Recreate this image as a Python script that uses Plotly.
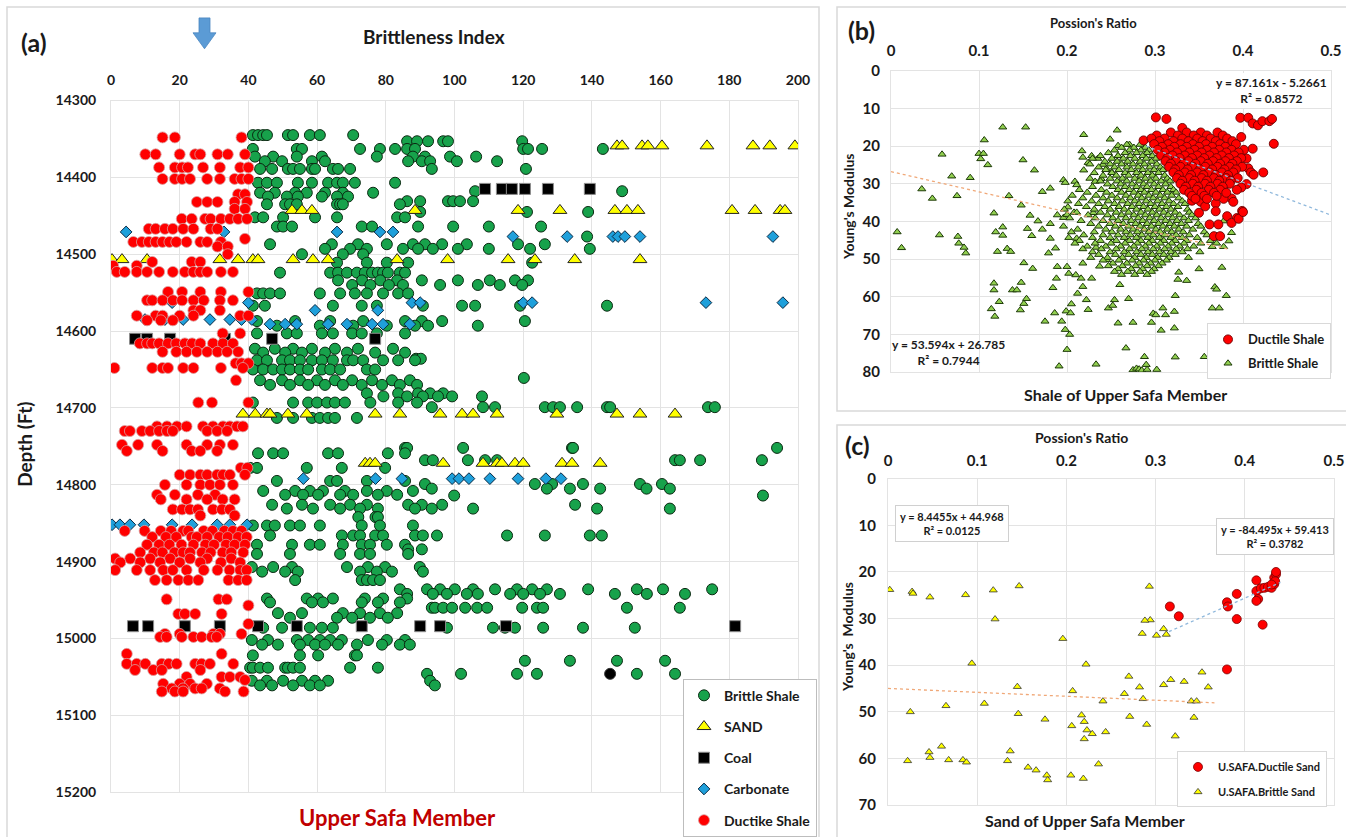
import plotly.graph_objects as go

W, H = 1346, 837


def px(x):
    return x / W


def py(y):
    return 1 - y / H


def expand(rows):
    """Rows of (key, [values]) -> (values, keys) as flat lists."""
    vals, keys = [], []
    for k, vs in rows:
        for v in vs:
            vals.append(v)
            keys.append(k)
    return vals, keys


# ---------------- Panel (a): Brittleness Index vs depth ----------------
bi_ticks = [0, 20, 40, 60, 80, 100, 120, 140, 160, 180, 200]
depth_ticks = [14300, 14400, 14500, 14600, 14700, 14800, 14900, 15000, 15100, 15200]

# (depth ft, [brittleness index ...])
brittle_shale_rows = [
    (14345, [41.3, 42.8, 44.3, 45.4, 51.5, 53, 57.9, 60.8, 70.5]),
    (14353, [86.2, 89.1, 92.3, 96.7, 98.1, 119.7]),
    (14363, [41.3, 54.1, 55.6, 72.5, 78.3, 82.7, 86.2, 88.5, 120, 121.4, 125.5, 143.2]),
    (14373, [41.9, 47.2, 54.1, 61.4, 77.4, 87.9, 91.4, 98.7, 106.3]),
    (14379, [44.8, 49.8, 58.5, 62.3, 86.5, 90.5, 92.9, 100.7, 112.4]),
    (14389, [43.4, 46.9, 51.5, 53, 55, 58.5, 59.4, 64.6, 66.1, 69.6, 93.4, 120.8]),
    (14407, [42.8, 45.4, 48.3, 54.4, 58.5, 63.2, 65.8, 67.5, 71, 82.7]),
    (14418, [106, 148.8]),
    (14420, [43.4, 47.7, 53.6, 57, 62.3, 67.5, 76.3]),
    (14425, [45.7, 51.2, 54.4, 61.4, 65.8, 69]),
    (14431, [86.2, 90, 98.1, 99.6, 101.6, 105.4]),
    (14435, [45.4, 50.7, 52.1, 54.1, 65.8, 66.7, 67.5, 84.1]),
    (14445, [90, 121.1, 138.9]),
    (14452, [41.9, 44.3, 50.1, 59.4, 65.8, 83.3, 85.6]),
    (14464, [48.3, 50.1, 52.7, 73, 76, 89.4, 99.6, 110, 125.2]),
    (14477, [138.6]),
    (14487, [46.3, 64.3, 71.9, 80.3, 87.9, 91.4, 96.4, 103.6, 118.5, 126.3]),
    (14493, [62.3, 69.6, 74.5, 85, 89.4, 93.7, 101, 110, 122, 139.4]),
    (14500, [55.6, 67.5, 73.4]),
    (14511, [65.8, 74.5, 80.3, 86.5, 122.6]),
    (14524, [49.2, 63.8, 66.1, 68.7, 71.6, 73.9, 76, 77.7, 79.2, 80.6, 84.1, 85.6]),
    (14534, [66.1, 73.1, 78.4, 83.3, 90.5, 101, 110.3, 117.6, 121.4]),
    (14540, [70.2, 75.5, 80.9, 85, 95.8, 106.8, 113.2, 119.7]),
    (14551, [42.5, 44.3, 46.3, 49.2, 60.8, 66.7, 71, 74.5, 79.2, 83.6, 86.5]),
    (14567, [41.3, 44.8, 64.6, 73, 77.4, 90.8, 102.2, 106, 119.1, 144.4]),
    (14587, [42.5, 53.6, 63.8, 73.4, 85.6, 90.5, 96.4, 120.5]),
    (14593, [48.3, 60.8, 70.5, 80.3, 88.5, 92.3, 106.8]),
    (14603, [42.5, 51.2, 54.1, 61.4, 64.6, 70.2, 73, 77.4, 85.6]),
    (14623, [41.9, 47.7, 53, 58.5, 65.2, 71.9, 82.1]),
    (14628, [44.3, 50.7, 55.6, 62.3, 68.7, 76.9, 85.6]),
    (14636, [88.8, 90.2]),
    (14638, [42.5, 45.4, 49.8, 52.1, 55, 58.5, 61.4, 64.6, 68.7, 70.5, 73.4, 79.2, 83.6, 88.5]),
    (14650, [41.3, 44.3, 47.2, 49.8, 52.1, 55, 57.4, 61.4, 63.8, 66.7, 74.5, 76.9]),
    (14661, [120.2]),
    (14664, [43.4, 49.8, 55, 60, 65.2, 70.2, 76, 81.8, 87]),
    (14670, [46.3, 52.1, 57.4, 62.3, 67.5, 73, 78.9, 84.1, 89.1]),
    (14681, [74.5, 83.6, 89.4, 92.9, 96.7]),
    (14685, [79.3, 86.2, 90.8, 95.2, 99.3, 108]),
    (14693, [41.3, 53, 57.4, 60, 62.9, 65.2, 68.1, 75.5, 83.6, 89.1]),
    (14699, [93.4, 108.3, 111.8, 126.3, 128.7, 130.7, 135.7, 144.4, 145.3, 173.8, 175.8]),
    (14713, [48.3, 53, 58.5, 60.8, 63.2, 65.2, 71.6]),
    (14752, [85.6, 86.2, 102.5, 134.2, 134.5, 193.9]),
    (14759, [42.8, 47.2, 50.1, 63.2, 66.1, 80.6, 85.6]),
    (14768, [91.4, 93.7, 103.9, 108.9, 112.4, 164.2, 165.6, 171.5, 189.5]),
    (14778, [40.5, 42.5, 57, 67.2, 79.8]),
    (14795, [48.3, 63.8, 65.8, 74.5, 85.6]),
    (14799, [91.4, 123.4, 128.4, 137.4, 154, 160.4]),
    (14805, [93.4, 126.9, 133.6, 142.4, 155.9, 162.7]),
    (14808, [44.3, 53.6, 57.9, 61.7, 68.1, 74.5, 80.3, 87.9]),
    (14813, [50.7, 55.9, 60.3, 66.7, 70.5, 77.7, 83.3]),
    (14814, [99.9, 189.8]),
    (14826, [46.9, 55.6, 63.8, 69.6, 74.5, 86.5, 90.5, 96.4, 135.1]),
    (14831, [51.2, 58.8, 66.7, 72.5, 77.7, 88.5, 93.4, 105.4, 141.5, 162.7]),
    (14842, [72, 77, 77.7]),
    (14853, [41.3, 45.4, 47.7, 52.1, 55, 60.8, 73, 78.3, 87.9]),
    (14866, [46.3, 67.2, 70.5, 72.5, 76.9, 79.2, 88.5, 90.8, 94.9, 115.3, 126.3, 139.4, 142.9]),
    (14878, [42.5, 52.7, 57.9, 60.8, 67.5, 73, 75.4, 80.3, 85.6]),
    (14884, [86.5, 90.5]),
    (14890, [42.5, 52.1, 66.7, 72.5, 75.4, 86.5]),
    (14907, [41, 47.2, 52.7, 68.7, 74.8, 79.8, 89.9]),
    (14913, [44, 50.7, 54.4, 72.5, 77.4, 81.8, 90.8]),
    (14924, [53.6, 73, 74.5, 76.3, 78.3]),
    (14936, [84.1, 92, 95.8, 100.1, 105.4, 111.8, 118.2, 122.6, 126.9, 138.9, 153.1, 160.7, 175]),
    (14942, [86.2, 93.7, 97.8, 103.6, 106.8, 116.2, 120, 124.9, 130.7, 146.7, 156, 167.1]),
    (14948, [45.4, 57, 60.3, 64.6, 73.9, 79.2, 86.2]),
    (14953, [46.3, 58.5, 61.7, 73, 77.7, 84.1]),
    (14960, [93.4, 94.3, 96.7, 99.3, 103.1, 106.6, 109.5, 119.7, 124, 125.8, 150.2, 165.6]),
    (14967, [48.6, 55.6, 67.5, 72.5, 78.3, 83.3]),
    (14973, [52.1, 65.8, 70.2, 75.4, 80.6]),
    (14986, [44.3, 49.8, 57.9, 61.4, 64.6, 97.8, 111.2, 114.7, 117.6, 125.8, 137.4, 152.5]),
    (15002, [41, 45.7, 54.1, 57.4, 60.8, 63.8, 67.2, 74.8, 80.3, 85.6]),
    (15008, [44, 48.6, 55, 59.4, 62.3, 66.1, 71.6, 78.9, 84.1, 87]),
    (15022, [41.3, 55, 60.3, 71, 71.6]),
    (15029, [120.5, 133.6, 147.3, 161.3]),
    (15038, [40.5, 41.3, 43.4, 45.7, 50.7, 51.5, 53, 55, 69.6, 77.7]),
    (15046, [92, 101.9, 118.2, 124, 153.1, 164.2]),
    (15055, [41, 45.4, 50.1, 55.6, 59.4, 63.2, 92.9]),
    (15061, [43.4, 46.9, 53, 57.9, 60.8, 94.3]),
]

sand_rows = [
    (14359, [147.3, 148.8, 154.6, 156.3, 160.4, 173.5, 186.9, 191.8, 199.1]),
    (14443, [52.7, 55.6, 58.5, 88.5, 118.5, 130.7, 146.7, 150.2, 153.4, 180.8, 187.5, 194.8, 196.2]),
    (14507, [0.3, 3.2, 10.5, 31.7, 37, 41.3, 42.8, 53, 58.8, 63.2, 83.3, 98, 115.6, 123.4, 135, 154]),
    (14708, [38.4, 42, 45.4, 46.3, 51.5, 57, 76.9, 84.1, 95.8, 102.2, 105.4, 112.4, 129.8, 147.3, 154, 164.2]),
    (14772, [74, 75.4, 76.9, 96.7, 108.3, 112.4, 113.8, 117.6, 120, 131.3, 134.2, 142.4]),
]

coal_rows = [
    (14415, [108.9, 113.8, 116.7, 120.5, 127.2, 139.4]),
    (14610, [7, 10.5, 17.2, 33.2, 46.9, 76.9]),
    (14984, [6.4, 10.8, 21.5, 31.7, 42.8, 54.1, 73, 90, 95.8, 115, 181.7]),
]
coal_round_point = ([145.3], [15046])

carbonate_rows = [
    (14471, [4.4, 32.9, 65.8, 78.3, 82.1]),
    (14477, [117, 132.8, 146.1, 147.6, 149.6, 154, 192.7]),
    (14563, [17.8, 40, 87.6, 90, 120, 122.6, 173.2, 195.6]),
    (14573, [59.4, 77.7]),
    (14585, [9.9, 15.7, 21, 28.8, 34.6, 38, 41]),
    (14591, [46.3, 50.7, 54.1, 63.2, 68.7, 76, 79.2, 87]),
    (14792, [56, 77, 84.7, 99.3, 101.3, 104.2, 110.3, 118.5, 126.6, 131]),
    (14852, [0.3, 2.6, 5.5, 9.6, 17.8, 23.6, 30.9, 34.6, 39.6]),
]

ductile_shale_rows = [
    (14348, [15, 18.6, 38]),
    (14370, [10, 13, 20, 24.5, 26, 31, 34, 39]),
    (14387, [14, 18.6, 20.7, 22.4, 26.8, 31.7, 37.6, 40]),
    (14402, [15, 18.6, 20.7, 23, 28, 31.7, 36, 38, 40]),
    (14422, [37, 39]),
    (14432, [25, 28, 31, 36, 39.6]),
    (14441, [36, 39]),
    (14454, [20.6, 23.5, 27.4, 29, 32, 34.6, 37, 39.6]),
    (14467, [11, 13, 15.7, 18, 21, 24, 29, 31]),
    (14480, [39]),
    (14484, [6.5, 9, 11, 13, 15, 17, 19, 22, 26, 28, 32]),
    (14490, [31, 34]),
    (14500, [34]),
    (14510, [12, 23.5, 26]),
    (14515, [0.6, 7.5]),
    (14523, [1.7, 4, 7.5, 10.5, 14, 18, 21.5, 24, 26, 28, 32, 35.5]),
    (14549, [16.6, 20.7, 26, 32, 40]),
    (14560, [10.5, 12, 15, 18, 20.7, 24, 27, 31.7, 35.5]),
    (14573, [24, 26, 31.7]),
    (14580, [7.5, 13, 15, 20, 24, 37.6, 40]),
    (14586, [10.5, 14.5, 18]),
    (14603, [32.5, 37.6]),
    (14616, [8.4, 10.5, 12, 14, 16.6, 19, 21.5, 23.6, 26, 29.7, 32.6, 35.5]),
    (14627, [15, 19, 22, 25, 28, 31, 33.8, 37]),
    (14642, [36.3, 38, 40]),
    (14648, [1, 12, 15, 16.6, 21, 24, 32, 38.4]),
    (14664, [36.4]),
    (14693, [25.4, 29.4, 40]),
    (14724, [13.4, 16.3, 19.2, 22, 26.8, 29.7, 32.6, 34.6, 36.7, 38.4]),
    (14730, [4, 5.5, 9, 11.4, 14, 16.3, 18, 28, 30.9, 33.8]),
    (14748, [3.2, 7.9, 13.4, 22, 28, 31.7, 35.5]),
    (14756, [4.6, 15, 23.5, 26, 30.9]),
    (14778, [37.8, 39.7]),
    (14787, [20, 23, 26, 28, 30.9, 32.6, 34.6, 39]),
    (14800, [15.7, 22, 26, 28.8, 31.7, 35.5]),
    (14813, [13.4, 18.6, 25.3, 30.3]),
    (14819, [14.5, 22, 28, 32.5, 36]),
    (14832, [18, 20.7, 23, 25.3, 29.7, 32.3, 34.6]),
    (14840, [26, 36]),
    (14860, [4, 9.8, 14.5, 17.5, 21, 22.5, 27, 29.5, 33, 35.5, 38]),
    (14868, [12, 16, 19, 23.5, 25, 28, 31.5, 34, 37, 39.5]),
    (14878, [10.5, 14, 17, 20.5, 24, 27.5, 30, 33.5, 36, 39]),
    (14888, [8.5, 12.5, 15, 18.5, 21, 23, 26.5, 29, 32.5, 35, 38.5]),
    (14896, [1.2, 5.6, 11.4, 17.2, 23, 28, 35]),
    (14901, [2.7, 8.5, 14.3, 20, 26, 32, 37.6]),
    (14911, [1.2, 7.5, 11.4, 15.2, 18, 22, 27, 31, 34.5, 37.6, 39.5]),
    (14924, [12.8, 16.2, 19.6, 22.5, 25.4, 34.2, 37, 39.5]),
    (14949, [16.2, 31.3, 33.7]),
    (14957, [40]),
    (14968, [19.6, 21.5, 24.5, 32.2]),
    (14981, [40]),
    (14994, [15.7, 20, 29.8, 31.7, 38]),
    (14998, [14.3, 16.2, 20.6, 24, 26.4, 29.3, 30.8]),
    (15020, [4.6, 32.2]),
    (15033, [4.6, 7.5, 10, 14.8, 16.8, 19.1, 24.5, 26.4, 28.8, 35.6]),
    (15041, [7, 12.3, 14.8, 26]),
    (15050, [22, 32.2, 34.6, 37.6]),
    (15054, [39]),
    (15059, [15.2, 20, 23, 27.9]),
    (15065, [17.7, 21, 24.5, 26.4, 31.7]),
    (15069, [14.8, 18.6, 21, 33.2, 38.6]),
]

# ---------------- Panel (b): shale, Poisson's ratio vs Young's modulus ----------------
pr_ticks = [0, 0.1, 0.2, 0.3, 0.4, 0.5]
ym_ticks_b = [0, 10, 20, 30, 40, 50, 60, 70, 80]

shale_brittle_pts = [
    (.127, 15.0), (.153, 15.0), (.106, 18.4), (.058, 22.2), (.100, 22.0), (.105, 22.0), (.102, 23.4),
    (.110, 25.0), (.150, 23.7), (.163, 26.4), (.069, 28.0), (.090, 28.4), (.035, 31.4), (.047, 33.9),
    (.075, 33.2), (.134, 33.2), (.172, 32.1), (.181, 31.2), (.219, 17.0), (.249, 18.2), (.257, 15.8),
    (.217, 21.3), (.218, 23.0), (.219, 26.4), (.196, 29.0), (.198, 29.7), (.209, 29.4), (.211, 30.3),
    (.226, 28.6), (.232, 29.4), (.239, 28.7), (.228, 22.6), (.235, 23.3), (.224, 24.4), (.241, 24.9),
    (.258, 19.9), (.271, 19.6), (.245, 26.0), (.251, 27.0), (.258, 22.6),
    (.007, 42.8), (.012, 47.0), (.055, 43.6), (.076, 44.0), (.077, 45.8), (.083, 46.9), (.085, 48.4),
    (.117, 37.8), (.117, 56.4), (.117, 58.2), (.114, 63.2), (.118, 65.2), (.123, 61.3), (.121, 48.0),
    (.119, 42.8), (.127, 41.5), (.127, 43.7), (.132, 47.2), (.136, 48.0), (.138, 58.2), (.143, 58.2),
    (.147, 63.5), (.148, 56.2), (.151, 61.8), (.154, 60.5), (.151, 51.0), (.161, 52.5), (.158, 38.4),
    (.155, 41.9), (.160, 43.8), (.148, 35.7), (.167, 39.9), (.175, 66.5), (.179, 48.4), (.181, 44.5),
    (.187, 47.1), (.186, 64.3), (.184, 57.6), (.188, 55.1), (.189, 52.0), (.194, 66.5), (.198, 68.7),
    (.199, 63.8), (.196, 39.0), (.200, 38.2), (.201, 36.2), (.200, 74.0), (.203, 70.0), (.202, 53.8),
    (.200, 52.0), (.204, 64.3), (.205, 61.9), (.208, 37.6), (.210, 54.2), (.211, 44.5), (.212, 59.1),
    (.216, 55.1), (.218, 51.1), (.218, 57.3), (.222, 60.8), (.224, 63.4), (.228, 55.1), (.230, 37.7),
    (.191, 78.4), (.233, 77.9), (.233, 46.9), (.237, 51.9), (.245, 50.2), (.247, 63.0), (.252, 62.3),
    (.254, 60.8), (.258, 67.0), (.260, 56.8), (.267, 73.6), (.270, 60.5), (.275, 66.8), (.275, 79.4),
    (.279, 79.0), (.282, 79.2), (.285, 79.5), (.288, 75.9), (.290, 78.0), (.291, 79.3), (.296, 66.8),
    (.298, 64.4), (.301, 64.8), (.302, 79.3), (.307, 68.9), (.309, 63.0), (.312, 64.8), (.322, 63.9),
    (.322, 68.3), (.323, 76.0), (.323, 59.7), (.326, 55.4), (.327, 53.5), (.336, 55.7), (.350, 52.6),
    (.356, 75.9), (.365, 63.0), (.368, 57.4), (.370, 58.0), (.373, 63.0), (.376, 52.2), (.381, 59.7),
    (.378, 39.9), (.387, 43.0), (.384, 45.2), (.378, 46.7), (.365, 46.7),
]

# (Young's modulus, [Poisson's ratio ...]) for the dense core of the brittle shale cloud
shale_brittle_rows = [
    (19.6, [.268, .283]),
    (20.4, [.262, .276, .289]),
    (21.1, [.254, .271, .284, .293]),
    (21.8, [.247, .266, .279, .291]),
    (22.6, [.238, .258, .272, .286, .297]),
    (23.3, [.229, .251, .264, .277, .290, .301]),
    (24.1, [.243, .257, .269, .283, .296]),
    (24.8, [.226, .249, .262, .275, .288, .302]),
    (25.6, [.236, .254, .268, .281, .294, .306]),
    (26.3, [.244, .259, .273, .286, .299, .309]),
    (27.1, [.231, .251, .266, .279, .292, .304]),
    (27.8, [.241, .256, .270, .284, .297, .311]),
    (28.6, [.249, .263, .277, .289, .301, .314]),
    (29.3, [.238, .257, .268, .282, .295, .307, .317]),
    (30.1, [.246, .261, .274, .287, .299, .312]),
    (30.8, [.229, .252, .266, .279, .291, .304, .318]),
    (31.6, [.214, .239, .258, .271, .284, .296, .309, .321]),
    (32.3, [.223, .245, .262, .276, .288, .301, .314, .324]),
    (33.1, [.206, .233, .251, .267, .281, .293, .306, .319]),
    (33.8, [.218, .241, .257, .272, .285, .298, .311, .327]),
    (34.6, [.201, .228, .247, .263, .277, .290, .303, .316, .331]),
    (35.3, [.213, .236, .254, .269, .282, .295, .308, .321, .334]),
    (36.1, [.222, .243, .259, .274, .287, .300, .313, .326]),
    (36.8, [.197, .231, .249, .265, .279, .292, .305, .318, .337]),
    (37.6, [.211, .238, .256, .270, .284, .297, .310, .323, .339]),
    (38.3, [.189, .224, .246, .262, .276, .289, .302, .315, .328, .342]),
    (39.1, [.203, .232, .252, .267, .281, .294, .307, .320, .333, .346]),
    (39.8, [.216, .241, .258, .273, .286, .299, .312, .325, .338]),
    (40.6, [.181, .227, .249, .264, .278, .291, .304, .317, .330, .349]),
    (41.3, [.196, .236, .255, .270, .283, .296, .309, .322, .336, .352]),
    (42.1, [.172, .212, .244, .261, .275, .288, .301, .314, .327, .343]),
    (42.8, [.205, .231, .251, .267, .280, .293, .306, .319, .332, .356]),
    (43.6, [.219, .241, .258, .272, .285, .298, .311, .324, .339, .359]),
    (44.3, [.202, .229, .249, .265, .279, .292, .305, .318, .331, .348]),
    (45.1, [.214, .238, .256, .271, .284, .297, .310, .323, .336, .363]),
    (45.8, [.209, .232, .250, .266, .280, .293, .306, .319, .333, .352, .370]),
    (46.6, [.223, .244, .261, .276, .289, .302, .315, .328, .344]),
    (47.3, [.218, .239, .256, .271, .285, .298, .311, .324, .337]),
    (48.1, [.229, .249, .265, .279, .292, .305, .318, .331, .351]),
    (48.8, [.236, .255, .270, .284, .297, .310, .323]),
    (49.6, [.227, .246, .263, .277, .290, .303, .316, .338]),
    (50.3, [.241, .259, .274, .287, .300, .313]),
    (51.1, [.252, .268, .282, .295, .308]),
    (51.8, [.247, .263, .278, .291, .304]),
    (52.6, [.258, .273, .286, .299]),
    (53.3, [.254, .269, .283, .296]),
    (54.1, [.262, .277, .291]),
]

shale_ductile_pts = [
    (.301, 12.4), (.313, 12.8), (.331, 15.2), (.398, 17.6), (.397, 12.5), (.406, 12.5), (.411, 14.0),
    (.417, 14.5), (.422, 13.4), (.430, 13.4), (.433, 12.8), (.435, 19.4), (.411, 20.7), (.404, 23.3),
    (.406, 25.9), (.409, 27.0), (.412, 27.6), (.423, 27.0), (.404, 30.1), (.398, 31.0), (.393, 31.6),
    (.387, 33.9), (.378, 34.0), (.287, 18.5), (.342, 34.5), (.352, 34.8), (.369, 35.2), (.389, 34.8),
    (.399, 37.2), (.393, 39.1), (.382, 38.6), (.369, 37.3), (.362, 40.8), (.372, 40.8), (.367, 43.9),
    (.374, 43.9), (.387, 40.4), (.395, 39.3), (.400, 37.5), (.350, 37.7), (.357, 36.0),
]

shale_ductile_rows = [
    (16.4, [.318, .336, .352, .371]),
    (17.2, [.302, .326, .344, .359, .377]),
    (18.0, [.296, .311, .331, .348, .363, .382]),
    (18.7, [.305, .321, .338, .354, .369, .388]),
    (19.5, [.299, .315, .329, .343, .358, .374, .392]),
    (20.2, [.308, .322, .336, .350, .365, .380]),
    (21.0, [.303, .317, .331, .345, .359, .373, .387, .401]),
    (21.7, [.311, .325, .339, .353, .367, .381, .395]),
    (22.5, [.307, .320, .334, .348, .362, .376, .390]),
    (23.2, [.314, .328, .342, .356, .370, .384, .398]),
    (24.0, [.312, .324, .338, .352, .366, .380, .393]),
    (24.7, [.318, .332, .346, .360, .374, .388]),
    (25.5, [.316, .329, .343, .357, .371, .385, .399]),
    (26.2, [.323, .337, .351, .365, .379, .392]),
    (27.0, [.321, .334, .348, .362, .376, .389]),
    (27.7, [.327, .341, .355, .369, .383]),
    (28.5, [.325, .339, .353, .367, .381, .394]),
    (29.2, [.331, .345, .359, .373, .386]),
    (30.0, [.329, .343, .357, .371, .385]),
    (30.8, [.335, .349, .363, .377]),
    (31.6, [.333, .347, .361, .374]),
    (32.4, [.339, .353, .367, .381]),
    (33.2, [.342, .356, .370]),
    (34.0, [.346, .359]),
]

# ---------------- Panel (c): sand, Poisson's ratio vs Young's modulus ----------------
ym_ticks_c = [0, 10, 20, 30, 40, 50, 60, 70]

sand_brittle_pts = [
    (.002, 23.8), (.027, 24.2), (.028, 24.6), (.047, 25.4), (.087, 24.9), (.118, 23.9), (.147, 23.0),
    (.120, 30.1), (.293, 23.1), (.294, 30.3), (.094, 39.6), (.196, 34.3), (.222, 39.8), (.025, 50.0),
    (.065, 48.7), (.108, 48.2), (.145, 44.6), (.146, 50.4), (.022, 60.5), (.046, 58.6), (.047, 59.8),
    (.060, 57.4), (.068, 60.3), (.084, 60.3), (.088, 60.8), (.134, 60.5), (.137, 58.4), (.157, 61.9),
    (.166, 62.5), (.178, 63.6), (.179, 64.6), (.176, 51.6), (.205, 63.6), (.219, 64.3), (.206, 53.0),
    (.207, 45.5), (.217, 50.7), (.220, 52.1), (.223, 53.9), (.229, 54.7), (.220, 55.8), (.236, 61.2),
    (.241, 47.7), (.244, 54.3), (.265, 46.1), (.270, 42.4), (.271, 51.0), (.282, 44.7), (.286, 47.2),
    (.290, 52.7), (.285, 33.2), (.288, 30.4), (.301, 33.6), (.309, 32.2), (.312, 33.4), (.309, 44.2),
    (.317, 43.1), (.322, 55.2), (.332, 43.5), (.340, 47.7), (.343, 51.2), (.346, 47.7), (.352, 41.5),
    (.359, 44.7),
]

sand_ductile_pts = [
    (.316, 27.4), (.326, 29.5), (.380, 26.5), (.381, 27.4), (.391, 24.7), (.391, 30.1), (.413, 21.8),
    (.413, 24.1), (.415, 25.8), (.413, 26.2), (.418, 23.5), (.422, 23.4), (.426, 23.2), (.430, 23.4),
    (.433, 22.6), (.433, 21.2), (.435, 20.5), (.435, 20.0), (.434, 22.0), (.430, 22.7), (.420, 31.3),
    (.380, 40.9),
]

# Linear trend lines: (slope, intercept, R squared, x start, x end)
trend_b_ductile = (87.161, -5.2661, 0.8572, 0.29, 0.5)
trend_b_brittle = (53.594, 26.785, 0.7944, 0.0, 0.385)
trend_c_ductile = (-84.495, 59.413, 0.3782, 0.315, 0.44)
trend_c_brittle = (8.4455, 44.968, 0.0125, 0.0, 0.366)

# ---------------- styling ----------------
FONT = "Lato"
TXT = "#1a1a1a"
GRID = "#e3e3e3"
GREEN = "#17a24b"
RED = "#ff0000"
YELLOW = "#ffff00"
BLUE = "#1fa0db"
LIGHT_GREEN = "#92d050"

fig = go.Figure()


def add_pts(xs, ys, name, marker, xa, ya, legend, showlegend=True, rank=1000):
    fig.add_trace(go.Scatter(
        x=xs, y=ys, mode="markers", name=name, marker=marker,
        xaxis=xa, yaxis=ya, legend=legend, showlegend=showlegend,
        legendgroup=name + legend, legendrank=rank, hoverinfo="skip"))


def add_rows(rows, *args, **kw):
    x, y = expand(rows)
    add_pts(x, y, *args, **kw)


def split(pts):
    return [p[0] for p in pts], [p[1] for p in pts]


# Panel (a) traces
add_rows(brittle_shale_rows, "Brittle Shale",
         dict(symbol="circle", size=11, color=GREEN, line=dict(color="#0b2a12", width=1)),
         "x", "y", "legend", rank=1)
add_rows(sand_rows, "SAND",
         dict(symbol="triangle-up", size=12, color=YELLOW, line=dict(color="#222", width=1)),
         "x", "y", "legend", rank=2)
add_rows(coal_rows, "Coal",
         dict(symbol="square", size=11, color="#000000", line=dict(color="#8c8c8c", width=1)),
         "x", "y", "legend", rank=3)
add_pts(coal_round_point[0], coal_round_point[1], "Coal point",
        dict(symbol="circle", size=11, color="#000000", line=dict(color="#333", width=1)),
        "x", "y", "legend", showlegend=False)
add_rows(carbonate_rows, "Carbonate",
         dict(symbol="diamond", size=9, color=BLUE, line=dict(color="#0a2a44", width=1)),
         "x", "y", "legend", rank=4)
add_rows(ductile_shale_rows, "Ductike Shale",
         dict(symbol="circle", size=11, color=RED, line=dict(color="#d9a0a0", width=0.8)),
         "x", "y", "legend", rank=5)

# Panel (b) traces: brittle cloud first, ductile cloud drawn over it
bx, by = expand(shale_brittle_rows)
ox, oy = split(shale_brittle_pts)
add_pts(ox + bx, oy + by, "Brittle Shale",
        dict(symbol="triangle-up", size=7, color=LIGHT_GREEN, line=dict(color="#1d3a08", width=1)),
        "x2", "y2", "legend2", rank=2)
dx, dy = expand(shale_ductile_rows)
ox, oy = split(shale_ductile_pts)
add_pts(ox + dx, oy + dy, "Ductile Shale",
        dict(symbol="circle", size=9, color=RED, line=dict(color="#6e0000", width=0.9)),
        "x2", "y2", "legend2", rank=1)

# Panel (c) traces
sx, sy = split(sand_brittle_pts)
add_pts(sx, sy, "U.SAFA.Brittle Sand",
        dict(symbol="triangle-up", size=7, color=YELLOW, line=dict(color="#333", width=0.8)),
        "x3", "y3", "legend3", rank=2)
sx, sy = split(sand_ductile_pts)
add_pts(sx, sy, "U.SAFA.Ductile Sand",
        dict(symbol="circle", size=9, color=RED, line=dict(color="#7a0000", width=0.8)),
        "x3", "y3", "legend3", rank=1)


def add_trend(tr, color, xa, ya):
    m, c, r2, x0, x1 = tr
    fig.add_trace(go.Scatter(
        x=[x0, x1], y=[m * x0 + c, m * x1 + c], mode="lines",
        line=dict(color=color, width=1.3, dash="dot"),
        xaxis=xa, yaxis=ya, showlegend=False, hoverinfo="skip"))


add_trend(trend_b_brittle, "#f0a878", "x2", "y2")
add_trend(trend_b_ductile, "#8fb8dc", "x2", "y2")
add_trend(trend_c_brittle, "#f0a878", "x3", "y3")
add_trend(trend_c_ductile, "#8fb8dc", "x3", "y3")


def eq_text(tr):
    m, c, r2 = tr[0], tr[1], tr[2]
    sign = "+" if c >= 0 else "-"
    return f"<b>y = {m:g}x {sign} {abs(c):g}<br>R² = {r2:g}</b>"


# ---------------- axes ----------------
tick_font = dict(family=FONT, size=14, color=TXT, weight="bold")
tick_font_small = dict(family=FONT, size=15, color=TXT, weight="bold")
common = dict(showgrid=True, gridcolor=GRID, gridwidth=1, zeroline=False, automargin=False,
              showline=True, linecolor=GRID, linewidth=1, mirror=True, ticks="")

fig.update_layout(
    xaxis=dict(domain=[px(111), px(798)], range=[0, 200], tickvals=bi_ticks, side="top",
               anchor="y", tickfont=tick_font, ticklabelstandoff=9, **common),
    yaxis=dict(domain=[py(796), py(101)], range=[15200, 14300], tickvals=depth_ticks,
               tickformat="d", anchor="x", tickfont=tick_font, ticklabelstandoff=11, **common),
    xaxis2=dict(domain=[px(891), px(1331)], range=[0, 0.5], tickvals=pr_ticks, side="top",
                anchor="y2", tickfont=tick_font_small, ticklabelstandoff=8, **common),
    yaxis2=dict(domain=[py(374), py(71)], range=[80, 0], tickvals=ym_ticks_b,
                anchor="x2", tickfont=tick_font_small, ticklabelstandoff=7, **common),
    xaxis3=dict(domain=[px(888), px(1334)], range=[0, 0.5], tickvals=pr_ticks, side="top",
                anchor="y3", tickfont=tick_font_small, ticklabelstandoff=6, **common),
    yaxis3=dict(domain=[py(809), py(481)], range=[70, 0], tickvals=ym_ticks_c,
                anchor="x3", tickfont=tick_font_small, ticklabelstandoff=8, **common),
)

# ---------------- legends ----------------
fig.update_layout(
    legend=dict(x=px(817), y=py(682), xanchor="right", yanchor="top",
                bgcolor="white", bordercolor="#bdbdbd", borderwidth=1,
                font=dict(family=FONT, size=14, color=TXT, weight="bold"),
                tracegroupgap=10, itemwidth=30),
    legend2=dict(x=px(1331), y=py(325), xanchor="right", yanchor="top",
                 bgcolor="white", bordercolor="#d9d9d9", borderwidth=1,
                 font=dict(family=FONT, size=13, color=TXT, weight="bold"),
                 tracegroupgap=4, itemwidth=30),
    legend3=dict(x=px(1327), y=py(755), xanchor="right", yanchor="top",
                 bgcolor="white", bordercolor="#d9d9d9", borderwidth=1,
                 font=dict(family=FONT, size=11, color=TXT, weight="bold"),
                 tracegroupgap=6, itemwidth=30),
)

# ---------------- text ----------------
annotations = []


def label(text, x, y, size, color=TXT, angle=0):
    annotations.append(dict(
        text=f"<b>{text}</b>", x=px(x), y=py(y), xref="paper", yref="paper",
        showarrow=False, textangle=angle, xanchor="center", yanchor="middle",
        font=dict(family=FONT, size=size, color=color)))


label("(a)", 34, 42, 25)
label("Brittleness Index", 434, 37, 19)
label("Depth (Ft)", 25, 447, 19, angle=-90)
label("Upper Safa Member", 397, 821, 22, color="#c00000")

label("(b)", 862, 30, 25)
label("Possion's Ratio", 1093, 23, 13)
label("Shale of Upper Safa Member", 1125, 396, 16)
label("Young's Modulus", 848, 208, 14, angle=-90)

label("(c)", 857, 447, 25)
label("Possion's Ratio", 1081, 440, 14)
label("Sand of Upper Safa Member", 1085, 824, 16)
label("Young's  Modulus", 848, 640, 14, angle=-90)

for tr, x, y, size, box in [
    (trend_b_ductile, 1271, 91, 12, False),
    (trend_b_brittle, 948, 354, 12, False),
    (trend_c_brittle, 952, 526, 11, True),
    (trend_c_ductile, 1275, 539, 11, True),
]:
    annotations.append(dict(
        text=eq_text(tr), x=px(x), y=py(y), xref="paper", yref="paper",
        showarrow=False, xanchor="center", yanchor="middle", align="center",
        font=dict(family=FONT, size=size, color=TXT),
        bgcolor="white" if (box or tr is trend_b_ductile) else None,
        bordercolor="#d0d0d0" if box else None, borderwidth=1 if box else 0,
        borderpad=4 if box else 2))

fig.update_layout(annotations=annotations)

# ---------------- panel frames and arrow ----------------
shapes = []
for x0, y0, x1, y1 in [(7, 7, 819, 845), (837, 7, 1352, 413), (837, 427, 1352, 845)]:
    shapes.append(dict(type="rect", xref="paper", yref="paper",
                       x0=px(x0), y0=py(y1), x1=px(x1), y1=py(y0),
                       line=dict(color="#d9d9d9", width=1.5), fillcolor="rgba(0,0,0,0)"))

arrow = [(199, 18), (210, 18), (210, 33), (216, 33), (204.5, 49), (193, 33), (199, 33)]
path = "M " + " L ".join(f"{px(a)},{py(b)}" for a, b in arrow) + " Z"
shapes.append(dict(type="path", xref="paper", yref="paper", path=path,
                   fillcolor="#5b9bd5", line=dict(color="#4a86c0", width=0.8)))

fig.update_layout(
    shapes=shapes,
    width=W, height=H, margin=dict(l=0, r=0, t=0, b=0),
    paper_bgcolor="white", plot_bgcolor="white",
    font=dict(family=FONT, color=TXT),
)

fig.write_html("out.html")
